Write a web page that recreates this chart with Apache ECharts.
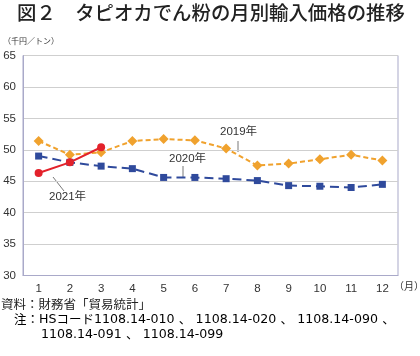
<!DOCTYPE html>
<html><head><meta charset="utf-8">
<script src="https://cdn.jsdelivr.net/npm/echarts@6/dist/echarts.min.js"></script>
<style>html,body{margin:0;padding:0;background:#fff}#c{width:420px;height:356px}</style>
</head><body><div id="c"></div>
<script>
const months = ['1','2','3','4','5','6','7','8','9','10','11','12'];
const s2019 = [51.4, 49.2, 49.6, 51.4, 51.7, 51.5, 50.2, 47.5, 47.8, 48.5, 49.2, 48.3];
const s2020 = [49.0, 48.0, 47.4, 47.0, 45.6, 45.6, 45.4, 45.1, 44.3, 44.2, 44.0, 44.5];
const s2021 = [46.3, 48.0, 50.4];
const yTicks = [30, 35, 40, 45, 50, 55, 60, 65];

const JP = '"Noto Sans CJK JP", sans-serif';
const NUM = '"Liberation Sans", Arial, sans-serif';
const MIX = '"Liberation Sans", "Noto Sans CJK JP", sans-serif';
const chart = echarts.init(document.getElementById('c'), null, {renderer: 'canvas'});
const richFoot = {
  j: {fontFamily: JP, fontSize: 12.5, color: '#222'},
  n: {fontFamily: '"DejaVu Sans", sans-serif', fontSize: 12.6, color: '#222'},
  h: {fontFamily: '"DejaVu Sans", sans-serif', fontSize: 12.6, color: '#222'},
  c: {fontFamily: JP, fontSize: 12.5, color: '#222', width: 21, align: 'center'}
};
chart.setOption({
  animation: false,
  backgroundColor: '#fff',
  grid: {left: 23, right: 22, top: 55.5, bottom: 80.5, show: true, borderColor: '#a9a9c9', borderWidth: 1, backgroundColor: 'transparent'},
  xAxis: {
    type: 'category', data: months, boundaryGap: true,
    axisLine: {lineStyle: {color: '#a9a9c9'}}, axisTick: {show: false},
    axisLabel: {color: '#333', fontFamily: NUM, fontSize: 11.5, margin: 7}
  },
  yAxis: {
    type: 'value', min: yTicks[0], max: yTicks[yTicks.length - 1], interval: 5,
    axisLine: {show: true, lineStyle: {color: '#a9a9c9'}}, axisTick: {show: false},
    splitLine: {lineStyle: {color: '#cfcfcf'}},
    axisLabel: {color: '#333', fontFamily: NUM, fontSize: 11.5, margin: 7}
  },
  series: [
    {name: '2019年', type: 'line', data: s2019, symbol: 'diamond', symbolSize: 10,
     lineStyle: {color: '#f0a22e', width: 2, type: [5, 3]}, itemStyle: {color: '#f0a22e'}},
    {name: '2020年', type: 'line', data: s2020, symbol: 'rect', symbolSize: 7,
     lineStyle: {color: '#2f4a9c', width: 2, type: [9, 5]}, itemStyle: {color: '#2f4a9c'}},
    {name: '2021年', type: 'line', data: s2021, symbol: 'circle', symbolSize: 8,
     lineStyle: {color: '#e3222b', width: 2}, itemStyle: {color: '#e3222b'}}
  ],
  graphic: [
    {type: 'text', left: 17, top: 3, style: {text: '図２　タピオカでん粉の月別輸入価格の推移', font: '500 19.4px ' + JP, fill: '#222'}},
    {type: 'text', left: 3, top: 37, style: {text: '（千円／トン）', font: '8px ' + JP, fill: '#333'}},
    {type: 'text', left: 394, top: 281, style: {text: '（月）', font: '10px ' + JP, fill: '#333'}},
    {type: 'text', left: 220, top: 126, style: {text: '2019年', font: '11.5px ' + MIX, fill: '#333'}},
    {type: 'line', shape: {x1: 238, y1: 141, x2: 238, y2: 152}, style: {stroke: '#555', lineWidth: 0.8}},
    {type: 'text', left: 169, top: 153, style: {text: '2020年', font: '11.5px ' + MIX, fill: '#333'}},
    {type: 'line', shape: {x1: 183, y1: 166, x2: 183, y2: 177}, style: {stroke: '#555', lineWidth: 0.8}},
    {type: 'text', left: 49, top: 191, style: {text: '2021年', font: '11.5px ' + MIX, fill: '#333'}},
    {type: 'line', shape: {x1: 53, y1: 177, x2: 64, y2: 191}, style: {stroke: '#555', lineWidth: 0.8}},
    {type: 'text', left: 1, top: 298, style: {text: '資料：財務省「貿易統計」', font: '12.5px ' + JP, fill: '#222'}},
    {type: 'text', left: 14, top: 313, style: {
      text: '{j|注：}{h|HS}{j|コード}{n|1108.14-010}{c|、}{n|1108.14-020}{c|、}{n|1108.14-090}{c|、}',
      rich: richFoot}},
    {type: 'text', left: 41, top: 328, style: {
      text: '{n|1108.14-091}{c|、}{n|1108.14-099}',
      rich: richFoot}}
  ]
});
</script></body></html>
